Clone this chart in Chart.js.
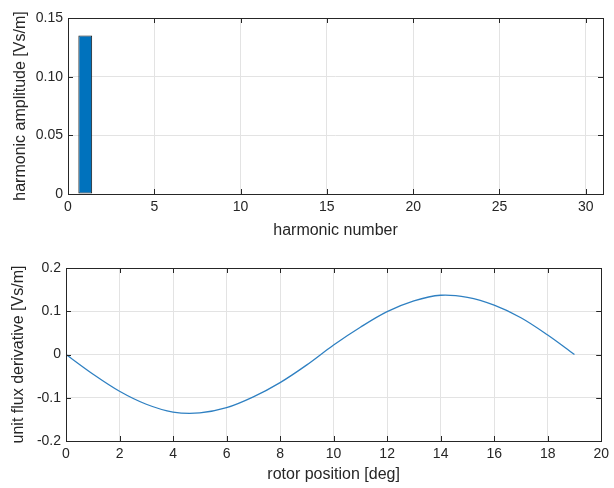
<!DOCTYPE html>
<html>
<head>
<meta charset="utf-8">
<script src="https://cdn.jsdelivr.net/npm/chart.js@4"></script>
<style>
  body { margin: 0; background: #fff; }
  .wrap { position: absolute; left: 0; width: 614px; height: 244px; }
</style>
</head>
<body>
<div class="wrap" style="top:0"><canvas id="top"></canvas></div>
<div class="wrap" style="top:244px"><canvas id="bottom"></canvas></div>
<script>
// harmonic spectrum (only the fundamental is non-zero)
const harmonics = [];
for (let n = 1; n <= 30; n++) harmonics.push(n);
const amplitudes = [0.135, 0, 0, 0, 0, 0, 0, 0, 0, 0, 0, 0, 0, 0, 0,
                    0, 0, 0, 0, 0, 0, 0, 0, 0, 0, 0, 0, 0, 0, 0];

// unit flux derivative vs rotor position
const rotorPos = [0, 1, 2, 3, 4, 5, 6, 7, 8, 9, 10, 11, 12, 13, 14, 15, 16, 17, 18, 19];
const fluxDeriv = [0, -0.045, -0.085, -0.115, -0.133, -0.135, -0.123, -0.098, -0.065, -0.024,
                   0.022, 0.063, 0.099, 0.124, 0.137, 0.132, 0.114, 0.085, 0.045, 0];

const topTicks = [0, 5, 10, 15, 20, 25, 30];
const txt = '#262626';
const gridCol = '#e3e3e3';
const fam = '"Liberation Sans", Arial, sans-serif';

// box around the axes plus inward tick marks, like matlab
const boxPlugin = {
  id: 'box',
  afterDatasetsDraw(chart) {
    const { ctx, chartArea: a, scales } = chart;
    ctx.save();
    ctx.strokeStyle = '#262626';
    ctx.lineWidth = 1;
    ctx.beginPath();
    scales.x.ticks.forEach(t => {
      const px = Math.round(scales.x.getPixelForValue(t.value)) + 0.5;
      ctx.moveTo(px, a.bottom); ctx.lineTo(px, a.bottom - 5);
      ctx.moveTo(px, a.top); ctx.lineTo(px, a.top + 5);
    });
    scales.y.ticks.forEach(t => {
      const py = Math.round(scales.y.getPixelForValue(t.value)) + 0.5;
      ctx.moveTo(a.left, py); ctx.lineTo(a.left + 5, py);
      ctx.moveTo(a.right, py); ctx.lineTo(a.right - 5, py);
    });
    ctx.stroke();
    ctx.strokeRect(Math.round(a.left) + 0.5, Math.round(a.top) + 0.5,
                   Math.round(a.right - a.left), Math.round(a.bottom - a.top));
    ctx.restore();
  }
};

function axisOpts(title, min, max, step, fixW, fixH, titlePad) {
  return {
    type: 'linear', min: min, max: max,
    grid: { color: gridCol, drawTicks: false, offset: false },
    border: { display: false },
    ticks: { stepSize: step, color: txt, padding: 5, font: { family: fam, size: 14 } },
    title: { display: true, text: title, color: txt, padding: titlePad, font: { family: fam, size: 16 } },
    afterFit: s => { if (fixW) s.width = fixW; if (fixH) s.height = fixH; }
  };
}

Chart.defaults.animation = false;

new Chart(document.getElementById('top'), {
  type: 'bar',
  data: {
    labels: harmonics,
    datasets: [{
      data: harmonics.map((n, i) => ({ x: n, y: amplitudes[i] })),
      backgroundColor: '#0072BD',
      borderColor: '#1a1a1a',
      borderWidth: 1,
      borderSkipped: false,
      barPercentage: 0.8,
      categoryPercentage: 1
    }]
  },
  options: {
    responsive: true, maintainAspectRatio: false,
    layout: { padding: { top: 18, right: 11 } },
    plugins: { legend: { display: false }, tooltip: { enabled: false } },
    scales: {
      x: Object.assign(axisOpts('harmonic number', 0, 31, 5, 0, 50, { top: 1 }), {
        offset: false,
        afterBuildTicks: s => { s.ticks = topTicks.map(v => ({ value: v })); }
      }),
      y: axisOpts('harmonic amplitude [Vs/m]', 0, 0.15, 0.05, 68, 0, { top: 11, bottom: 0 })
    }
  },
  plugins: [boxPlugin]
});

new Chart(document.getElementById('bottom'), {
  type: 'line',
  data: {
    datasets: [{
      data: rotorPos.map((p, i) => ({ x: p, y: fluxDeriv[i] })),
      borderColor: '#2f80c2',
      borderWidth: 1.3,
      pointRadius: 0,
      tension: 0.35,
      fill: false
    }]
  },
  options: {
    responsive: true, maintainAspectRatio: false,
    layout: { padding: { top: 24, right: 11 } },
    plugins: { legend: { display: false }, tooltip: { enabled: false } },
    scales: {
      x: axisOpts('rotor position [deg]', 0, 20, 2, 0, 47, { top: 1 }),
      y: axisOpts('unit flux derivative [Vs/m]', -0.2, 0.2, 0.1, 66, 0, { top: 9, bottom: 0 })
    }
  },
  plugins: [boxPlugin]
});
</script>
</body>
</html>
